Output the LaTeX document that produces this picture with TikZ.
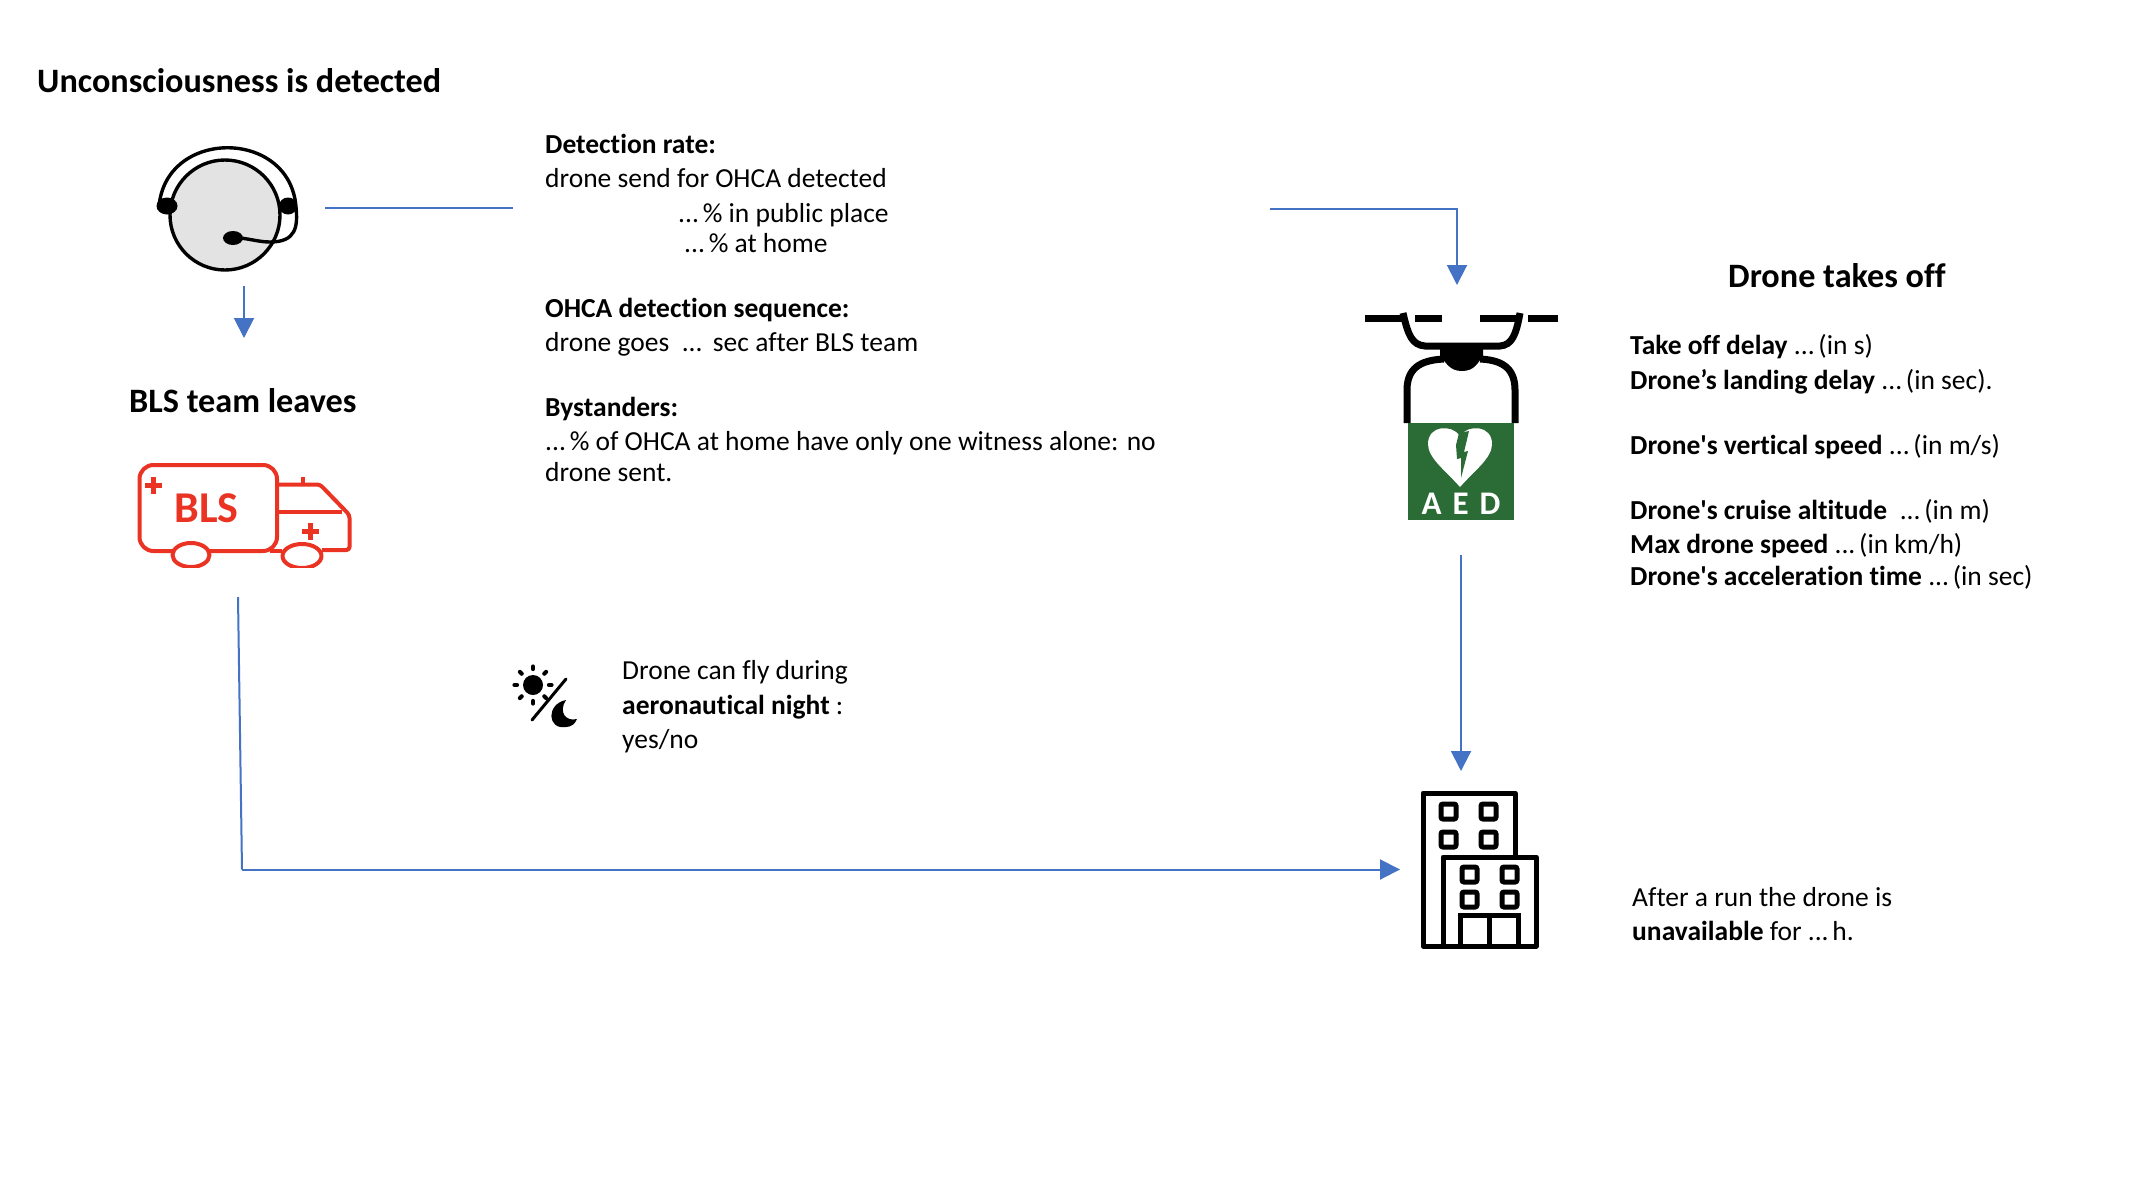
\documentclass[tikz,border=0pt]{standalone}
\usepackage{fontspec}
\setmainfont[Ligatures={TeXOff,CommonOff}]{Carlito}
\usetikzlibrary{arrows.meta}
\definecolor{linkblue}{HTML}{4472C4}
\definecolor{aedgreen}{HTML}{2A6B36}
\definecolor{blsred}{HTML}{EA3323}
\newcommand{\dts}{...\kern-4.5pt}
\tikzset{
  x=1pt,y=-1pt,
  body/.style={anchor=base west,inner sep=0pt,font=\fontsize{27.5}{32}\selectfont},
  head/.style={anchor=base west,inner sep=0pt,font=\fontsize{34.2}{40}\selectfont\bfseries},
  link/.style={draw=linkblue,line width=2pt},
  arrowlink/.style={link,-{Triangle[length=20pt,width=20pt]}},
  ink/.style={draw=black,line width=5pt},
  thinink/.style={draw=black,line width=3.4pt},
  amb/.style={draw=blsred,line width=4pt,line join=round},
  win/.style={draw=black,line width=5pt,rounded corners=2pt},
  arm/.style={draw=black,line width=7pt},
}
\begin{document}
\begin{tikzpicture}
\useasboundingbox (0,0) rectangle (2152,1194);
\fill[white] (0,0) rectangle (2152,1194);
% titles
\node[head] (t1) at (37,92) {Unconsciousness is detected};
\node[head] (t2) at (129,412) {BLS team leaves};
\node[head] (t3) at (1728,287) {Drone takes off};
% centre text
\node[body] (a1) at (545,153.5) {\bfseries Detection rate:};
\node[body] (a2) at (545,187.5) {drone send for OHCA detected};
\node[body] (a3) at (678,222.5) {\dts{} \% in public place};
\node[body] (a4) at (684,252.5) {\dts{} \% at home};
\node[body] (b1) at (545,317.5) {\bfseries OHCA detection sequence:};
\node[body] (b2) at (545,351.5) {drone goes\ \ ...\kern-2pt\ \ sec after BLS team};
\node[body] (c1) at (545,416.5) {\bfseries Bystanders:};
\node[body] (c2) at (545,450.5) {\dts{} \% of OHCA at home have only one witness alone: no};
\node[body] (c3) at (545,481.5) {drone sent.};
\node[body] (n1) at (622,679.5) {Drone can fly during};
\node[body] (n2) at (622,714.5) {\bfseries aeronautical night \mdseries:};
\node[body] (n3) at (622,748.5) {yes/no};
% right text
\node[body] (r1) at (1630,354) {\textbf{Take off delay} \dts{} (in s)};
\node[body] (r2) at (1630,389) {\textbf{Drone’s landing delay} \dts{} (in sec).};
\node[body] (r3) at (1630,454) {\textbf{Drone's vertical speed} \dts{} (in m/s)};
\node[body] (r4) at (1630,519) {\textbf{Drone's cruise altitude}\ \ \dts{} (in m)};
\node[body] (r5) at (1630,553) {\textbf{Max drone speed} \dts{} (in km/h)};
\node[body] (r6) at (1630,585) {\textbf{Drone's acceleration time} \dts{} (in sec)};
\node[body] (u1) at (1632,906) {After a run the drone is};
\node[body] (u2) at (1632,940) {\textbf{unavailable} for \dts{} h.};
% headset
\draw[thinink,fill=black!11] (225,215) circle (55);
\draw[thinink] (159,207) .. controls (165,128) and (290,128) .. (296,207) .. controls (298,227) and (296,242) .. (270,242) .. controls (260,242) and (250,239) .. (240,238);
\fill (167,206) ellipse (10.5 and 8.5);
\fill (288,206) ellipse (9 and 8.5);
\fill (233,238) ellipse (10 and 7);
% ambulance
\draw[amb,rounded corners=14pt] (139.5,465) rectangle (277,551);
\draw[amb,rounded corners=3pt] (277,484.5) -- (320,484.5) -- (349.5,515) -- (349.5,550) -- (322,550);
\draw[amb] (270,551) -- (282,551);
\draw[amb] (277,512) -- (342,512);
\draw[amb] (303,477) -- (303,483);
\draw[amb,line width=5pt] (145,485) -- (162,485) (153.5,477) -- (153.5,494);
\draw[amb,line width=5pt] (302,531) -- (319,531) (310.5,523) -- (310.5,540);
\begin{scope}
\clip (140,535) rectangle (340,567);
\draw[amb,fill=white] (191,555) ellipse (18.5 and 12);
\draw[amb,fill=white] (302,556) ellipse (19.5 and 12);
\end{scope}
\node[inner sep=0pt,text=blsred,font=\fontsize{44}{44}\selectfont\bfseries] (blslabel) at (206.5,508) {BLS};
% drone
\draw[arm] (1365,318) -- (1403,318) (1415,318) -- (1442,318) (1480,318) -- (1520,318) (1528,318) -- (1558,318);
\draw[arm] (1403,313) .. controls (1408,335) and (1412,345) .. (1425,346) -- (1500,346) .. controls (1512,345) and (1516,335) .. (1520,313);
\fill (1440,344) -- (1483,344) -- (1483,356) .. controls (1478,362) and (1475,371) .. (1462,371) .. controls (1449,371) and (1446,362) .. (1440,356) -- cycle;
\draw[arm] (1444,359) .. controls (1425,360) and (1407,365) .. (1407,390) -- (1407,423);
\draw[arm] (1480,359) .. controls (1498,360) and (1515,365) .. (1515,390) -- (1515,423);
\fill[aedgreen] (1408,423) rectangle (1514,520);
\fill[white] (1460,487) .. controls (1445,470) and (1428,458) .. (1428,444) .. controls (1428,425) and (1452,424) .. (1460,436) .. controls (1468,424) and (1492,425) .. (1492,444) .. controls (1492,458) and (1475,470) .. (1460,487) -- cycle;
\fill[aedgreen] (1459,433) -- (1469,431) -- (1464,452) -- (1468,451) -- (1461,478) -- (1461,458) -- (1457,459) -- (1456,445) -- cycle;
\node[inner sep=0pt,anchor=base,text=white,font=\fontsize{33}{33}\selectfont\bfseries] (aedlabel) at (1461,514) {A\,\,E\,\,D};
% building
\draw[ink,line join=round] (1443,857) -- (1515,857) (1515,857) -- (1515,793) -- (1423,793) -- (1423,946) -- (1536,946) -- (1536,857) -- (1443,857) -- (1443,946);
\draw[ink] (1460,946) -- (1460,915) -- (1518,915) -- (1518,946) (1489,915) -- (1489,946);
\draw[win] (1441,804) rectangle (1456,819);
\draw[win] (1481,804) rectangle (1496,819);
\draw[win] (1441,832) rectangle (1456,847);
\draw[win] (1481,832) rectangle (1496,847);
\draw[win] (1462,867) rectangle (1477,882);
\draw[win] (1502,867) rectangle (1517,882);
\draw[win] (1462,892) rectangle (1477,907);
\draw[win] (1502,892) rectangle (1517,907);
% sun and moon
\fill (533,685) circle (10);
\foreach \a in {0,45,...,315}{\draw[black,line width=4.2pt,line cap=round] (533,685) ++(\a:16) -- ++(\a:2.5);}
\draw[black,line width=3pt,line cap=round] (566,679) -- (532,720);
\fill (566,700) .. controls (546,704) and (547,730) .. (566,727) .. controls (571,727) and (575,724) .. (577,719) .. controls (566,722) and (558,712) .. (566,700) -- cycle;
% connectors
\coordinate (hsR) at (325,208);
\coordinate (txL) at (513,208);
\coordinate (txR) at (1270,209);
\coordinate (droneTop) at (1457,285);
\coordinate (hsB) at (244,286);
\coordinate (blsTop) at (244,338);
\coordinate (aedB) at (1461,555);
\coordinate (bldTop) at (1461,771);
\coordinate (blsB) at (238,597);
\coordinate (corner) at (242,869.5);
\coordinate (bldL) at (1400,869.5);
\draw[link] (hsR) -- (txL);
\draw[arrowlink] (txR) -- (droneTop |- txR) -- (droneTop);
\draw[arrowlink] (hsB) -- (blsTop);
\draw[arrowlink] (aedB) -- (bldTop);
\draw[link] (blsB) -- (corner);
\draw[arrowlink] (corner) -- (bldL);
\end{tikzpicture}
\end{document}
